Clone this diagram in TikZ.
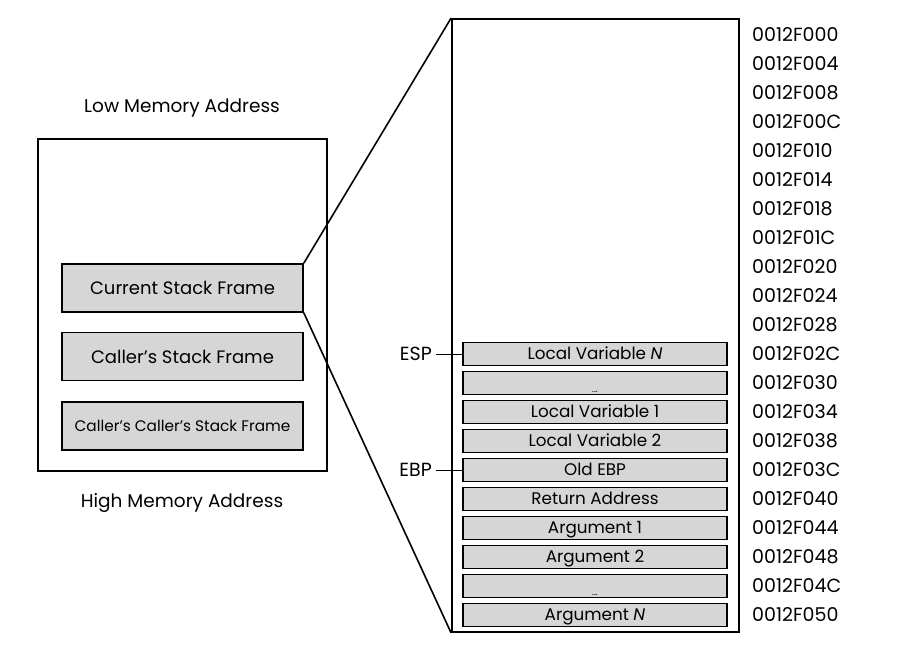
\documentclass[tikz,border=0pt]{standalone}
\usepackage{fontspec}
\setmainfont{Poppins}
\definecolor{slotgray}{RGB}{214,214,214}

\begin{document}
\begin{tikzpicture}[x=1pt, y=-1pt,
    frame/.style={draw, line width=1.8pt, inner sep=0pt},
    txt/.style={inner sep=0pt, font=\fontsize{18.5}{18.5}\selectfont},
    box/.style={draw, line width=1.6pt, fill=slotgray, minimum width=241pt, minimum height=48pt, inner sep=0pt, font=\fontsize{18}{18}\selectfont},
    slot/.style={draw, line width=1.2pt, fill=slotgray, minimum width=264pt, minimum height=23pt, inner sep=0pt, text height=12pt, text depth=0.5pt, font=\fontsize{16.8}{16.8}\selectfont},
    addr/.style={anchor=west, inner sep=0pt, font=\fontsize{19}{19}\selectfont},
    reg/.style={anchor=east, inner sep=4pt, font=\fontsize{19}{19}\selectfont}]
                            % Frames and labels:
                            \useasboundingbox (0,0) rectangle (903,648);
                            \node[frame, minimum width=289pt, minimum height=332pt] (memory) at (182.5,305) {};
                            \node[txt] (low) at (182,108) {Low Memory Address};
                            \node[txt] (high) at (182,503) {High Memory Address};
                            \node[box] (current) at (182.5,288) {Current Stack Frame};
                            \node[box] (caller) at (182.5,356.5) {Caller’s Stack Frame};
                            \node[box, font=\fontsize{15.3}{15.3}\selectfont] (callercaller) at (182.5,426) {Caller’s Caller’s Stack Frame};
                            \node[frame, minimum width=287pt, minimum height=613pt] (stack) at (595.5,325.5) {};
                            % Stack slots:
                            \node[slot] (localn) at (595,354) {Local Variable \textit{N}};
                            \node[slot] (dotsa) at (595,383) {\raisebox{-4pt}{\fontsize{9}{9}\selectfont...}};
                            \node[slot] (locala) at (595,412) {Local Variable 1};
                            \node[slot] (localb) at (595,441) {Local Variable 2};
                            \node[slot] (oldebp) at (595,470) {Old EBP};
                            \node[slot] (ret) at (595,499) {Return Address};
                            \node[slot] (arga) at (595,528) {Argument 1};
                            \node[slot] (argb) at (595,557) {Argument 2};
                            \node[slot] (dotsb) at (595,586) {\raisebox{-4pt}{\fontsize{9}{9}\selectfont...}};
                            \node[slot] (argn) at (595,615) {Argument \textit{N}};
                            % Registers:
                            \node[reg] (esp) at (436,354) {ESP};
                            \node[reg] (ebp) at (436,470) {EBP};
                            \draw[line width=1pt] (esp) -- (localn);
                            \draw[line width=1pt] (ebp) -- (oldebp);
                            % Zoom lines:
                            \draw[line width=1.6pt] (current.north east) -- (stack.north west);
                            \draw[line width=1.6pt] (current.south east) -- (stack.south west);
                            % Addresses:
                            \node[addr] (a00) at (752,35) {0012F000};
                            \node[addr] (a04) at (752,64) {0012F004};
                            \node[addr] (a08) at (752,93) {0012F008};
                            \node[addr] (a0c) at (752,122) {0012F00C};
                            \node[addr] (a10) at (752,151) {0012F010};
                            \node[addr] (a14) at (752,180) {0012F014};
                            \node[addr] (a18) at (752,209) {0012F018};
                            \node[addr] (a1c) at (752,238) {0012F01C};
                            \node[addr] (a20) at (752,267) {0012F020};
                            \node[addr] (a24) at (752,296) {0012F024};
                            \node[addr] (a28) at (752,325) {0012F028};
                            \node[addr] (a2c) at (752,354) {0012F02C};
                            \node[addr] (a30) at (752,383) {0012F030};
                            \node[addr] (a34) at (752,412) {0012F034};
                            \node[addr] (a38) at (752,441) {0012F038};
                            \node[addr] (a3c) at (752,470) {0012F03C};
                            \node[addr] (a40) at (752,499) {0012F040};
                            \node[addr] (a44) at (752,528) {0012F044};
                            \node[addr] (a48) at (752,557) {0012F048};
                            \node[addr] (a4c) at (752,586) {0012F04C};
                            \node[addr] (a50) at (752,615) {0012F050};
                        \end{tikzpicture}
\end{document}
